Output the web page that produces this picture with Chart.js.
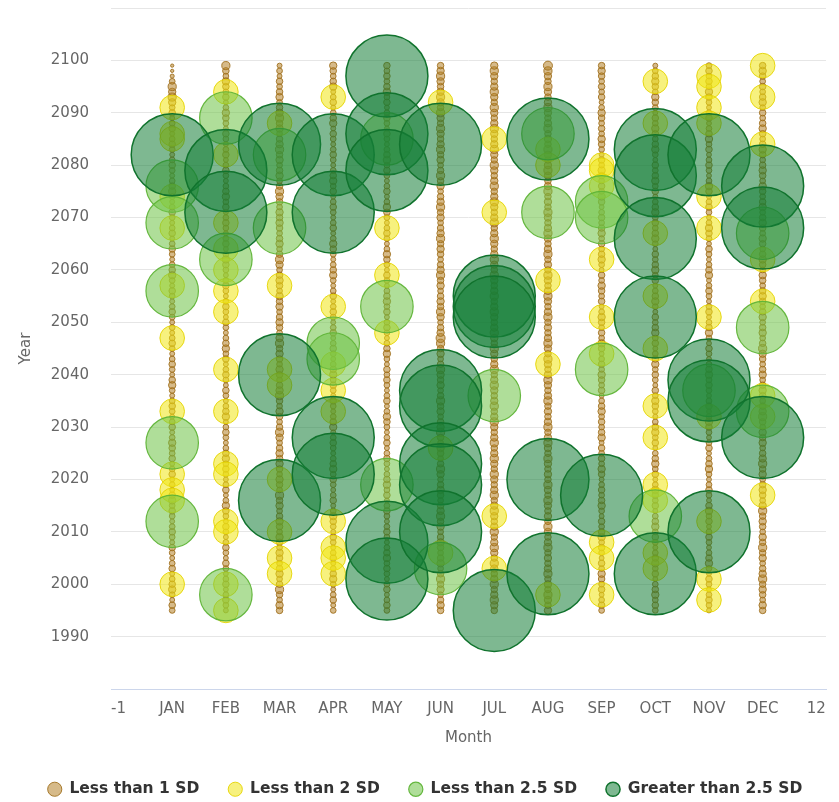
<!DOCTYPE html>
<html>
<head>
<meta charset="utf-8">
<title>Monthly anomaly bubbles</title>
<script src="https://cdn.jsdelivr.net/npm/chart.js@4.4.1/dist/chart.umd.min.js"></script>
<style>
    html, body { margin: 0; padding: 0; background: #fff; }
    #myChart { display: block; }
</style>
</head>
<body>
<canvas id="myChart" width="839" height="802"></canvas>
<script>
var months = ['JAN', 'FEB', 'MAR', 'APR', 'MAY', 'JUN', 'JUL', 'AUG', 'SEP', 'OCT', 'NOV', 'DEC'];
var xTickLabels = ['-1', 'JAN', 'FEB', 'MAR', 'APR', 'MAY', 'JUN', 'JUL', 'AUG', 'SEP', 'OCT', 'NOV', 'DEC', '12'];
var seriesNames = ['Less than 1 SD', 'Less than 2 SD', 'Less than 2.5 SD', 'Greater than 2.5 SD'];

// pierwszy rok w tablicach lt1Size (jedna wartość na rok, 1995..2099)
var firstYear = 1995;

// wielkość małych bąbelków (< 1 SD), wiersz = miesiąc
var lt1Size = [
    [7,8,6,7,9,8,7,6,8,7,6,7,8,6,7, 8,7,6,7,8,7,9,8,6,7,6,8,7,6,8, 7,8,9,7,6,8,7,6,7,8,7,6,7,9,8,
     6,7,8,7,6,7,8,7,6,7,6,7,8,7,6, 7,8,6,7,9,8,7,6,7,8,7,6,8,7,6, 7,8,7,6,7,9,8,7,6,7,8,7,6,7,8,
     7,6,8,7,6,8,7,9,10,9,10,7,5,4,4],
    [6,7,8,7,6,8,7,6,7,8,6,7,8,7,6, 7,8,6,7,8,9,7,6,8,7,6,7,8,7,9, 8,7,6,7,8,7,6,9,8,7,6,7,8,6,7,
     8,7,6,8,7,9,8,7,6,7,8,6,7,8,7, 6,7,8,7,6,7,8,9,7,6,8,7,6,7,8, 7,6,8,7,9,8,7,6,7,8,7,6,8,7,6,
     7,8,6,7,8,9,7,6,8,7,8,9,7,8,10],
    [8,9,7,8,10,8,7,9,8,7,8,9,7,8,9, 7,8,9,8,7,9,8,10,7,8,9,7,8,9,8, 9,8,7,9,10,8,7,8,9,7,8,10,9,8,7,
     8,9,7,8,9,8,10,9,7,8,9,8,7,9,8, 9,7,8,9,8,7,9,10,8,7,9,8,7,8,9, 8,9,7,8,9,10,8,7,9,8,7,9,8,10,9,
     8,7,9,8,10,9,8,7,9,8,7,8,6,7,6],
    [7,6,8,7,6,7,9,8,7,6,8,7,6,7,8, 6,7,8,9,7,6,8,7,6,7,8,7,9,8,7, 6,7,8,7,6,9,8,7,6,7,8,6,7,8,7,
     9,8,7,6,7,8,7,6,8,7,6,7,8,7,6, 8,7,6,7,9,8,7,6,7,8,9,7,6,8,7, 6,7,8,7,6,8,7,9,8,7,6,7,8,7,6,
     7,8,6,9,8,7,6,8,7,6,9,8,7,8,9],
    [7,8,7,6,8,7,6,7,8,7,9,8,7,6,7, 8,7,6,7,8,7,6,8,7,9,8,7,6,7,8, 7,6,8,7,6,7,8,9,7,6,8,7,6,7,8,
     7,8,6,7,9,8,7,6,7,8,7,6,8,7,9, 8,7,6,7,8,6,7,8,9,7,6,7,8,7,6, 7,8,9,7,6,8,7,6,7,8,7,9,8,7,6,
     7,8,6,7,8,7,6,8,7,9,8,7,8,7,8],
    [8,9,8,7,9,8,10,8,7,9,8,7,8,9,8, 7,9,8,10,9,8,7,8,9,8,7,9,10,8,7, 8,9,7,8,10,9,8,7,9,8,10,8,7,9,8,
     9,10,8,7,9,8,10,11,9,8,7,9,10,8,9, 8,7,9,8,10,9,8,7,8,9,8,10,9,8,7, 9,8,10,9,8,7,9,8,10,8,7,9,8,10,9,
     8,9,10,8,9,10,8,9,10,9,8,9,10,9,8],
    [8,9,10,9,8,10,9,8,9,10,8,9,10,9,8, 10,9,8,9,10,9,8,10,9,8,9,10,8,9,10, 9,8,10,9,8,9,10,9,8,10,9,8,9,10,9,
     8,10,9,8,9,10,8,9,10,9,8,9,10,9,8, 10,9,8,9,10,8,9,10,9,8,9,10,9,8,10, 9,8,9,10,9,8,10,9,8,9,10,8,9,10,9,
     8,9,10,9,8,9,10,8,9,10,9,8,9,10,9],
    [9,8,9,10,8,9,8,10,9,8,9,8,10,9,8, 9,10,8,9,8,9,10,8,9,10,8,9,8,9,10, 8,9,10,9,8,10,9,8,9,8,10,9,8,9,10,
     9,8,9,10,8,9,10,9,8,9,8,10,9,8,9, 10,9,8,9,10,8,9,8,10,9,8,9,10,9,8, 9,10,8,9,8,10,9,8,9,10,9,8,9,10,8,
     9,8,10,9,8,9,10,9,8,9,10,8,9,10,11],
    [7,8,7,6,8,7,8,9,7,8,6,7,8,7,9, 8,7,8,6,7,9,8,7,8,7,6,8,9,7,8, 7,8,6,9,8,7,8,7,9,8,7,6,8,7,8,
     9,7,8,7,6,8,9,7,8,7,8,9,7,6,8, 7,8,9,7,8,6,7,9,8,7,8,7,9,8,7, 8,7,6,8,9,7,8,7,8,9,7,8,6,7,8,
     9,7,8,7,8,9,7,6,8,7,8,7,8,9,8],
    [7,8,7,9,8,7,6,8,7,9,8,7,6,7,8, 7,9,8,7,6,8,7,8,9,7,6,8,7,9,8, 7,6,8,7,9,8,7,6,7,8,9,7,8,6,7,
     8,7,9,8,7,6,8,7,9,8,7,8,6,7,9, 8,7,6,8,7,9,8,7,8,6,7,9,8,7,8, 7,9,8,7,6,8,7,9,8,7,8,6,7,9,8,
     7,8,9,7,8,6,7,8,9,7,8,9,8,7,6],
    [6,7,8,7,6,7,8,6,7,9,8,7,6,7,8, 7,6,8,7,9,8,6,7,8,7,6,7,9,8,7, 6,8,7,6,7,8,9,7,6,8,7,6,7,8,7,
     9,8,7,6,7,8,6,7,9,8,7,6,8,7,6, 7,8,7,6,9,8,7,6,7,8,6,7,8,9,7, 6,7,8,7,6,8,9,7,6,7,8,7,6,8,7,
     9,8,7,6,8,7,6,7,8,9,7,8,7,8,7],
    [8,9,7,8,9,8,10,9,8,7,9,8,10,8,9, 7,8,9,8,10,9,7,8,9,8,7,9,8,10,9, 8,7,9,8,9,7,8,10,9,8,7,8,9,8,7,
     9,8,7,8,9,10,8,7,9,8,7,9,8,7,8, 9,8,7,8,9,7,8,9,8,7,8,9,7,8,9, 8,7,9,8,7,8,9,7,8,9,8,7,8,9,8,
     7,8,9,8,7,8,7,9,8,7,8,7,8,9,8]
];

// lata z odchyleniem < 2 SD (żółte)
var lt2Years = [
    [2091, 2086, 2085, 2074, 2068, 2057, 2047, 2033, 2021, 2018, 2016, 2000],
    [2094, 2082, 2069, 2064, 2060, 2056, 2052, 2041, 2033, 2023, 2021, 2012, 2010, 2000, 1995],
    [2088, 2057, 2041, 2038, 2020, 2010, 2005, 2002],
    [2093, 2053, 2042, 2037, 2033, 2012, 2007, 2005, 2002],
    [2068, 2059, 2048],
    [2092, 2026, 2006],
    [2085, 2071, 2013, 2003],
    [2083, 2080, 2058, 2042, 1998],
    [2080, 2079, 2076, 2062, 2051, 2044, 2008, 2005, 1998],
    [2096, 2088, 2067, 2055, 2045, 2034, 2028, 2019, 2016, 2006, 2003],
    [2097, 2095, 2091, 2088, 2074, 2068, 2051, 2032, 2012, 2001, 1997],
    [2099, 2093, 2084, 2062, 2054, 2036, 2032, 2017]
];

// lata z odchyleniem < 2.5 SD (jasnozielone)
var lt25Years = [
    [2076, 2069, 2056, 2027, 2012],
    [2089, 2062, 1998],
    [2082, 2068],
    [2046, 2043],
    [2085, 2053, 2019],
    [2003],
    [2036],
    [2086, 2071],
    [2073, 2070, 2041],
    [2013],
    [2037],
    [2067, 2049, 2033]
];

// lata z odchyleniem > 2.5 SD (ciemnozielone)
var gt25Years = [
    [2082],
    [2079, 2071],
    [2084, 2040, 2016],
    [2082, 2071, 2028, 2021],
    [2097, 2086, 2079, 2008, 2001],
    [2084, 2037, 2034, 2023, 2019, 2010],
    [2055, 2053, 2051, 1995],
    [2085, 2020, 2002],
    [2017],
    [2083, 2078, 2066, 2051, 2002],
    [2082, 2039, 2035, 2010],
    [2076, 2068, 2028]
];

// wielkość bąbelka dla kolejnych grup
var lt2Size = 30;
var lt25Size = 64;
var gt25Size = 100;

var rPerSize = 0.41;

function initialize() {
    Chart.defaults.font.family = "'DejaVu Sans', sans-serif";
    generateChart();
}

function sizedPoints() {
    var points = [];
    lt1Size.forEach(function (sizes, m) {
        sizes.forEach(function (z, i) {
            points.push({ x: m, y: firstYear + i, r: z * rPerSize });
        });
    });
    return points;
}

function yearPoints(yearLists, z) {
    var points = [];
    yearLists.forEach(function (years, m) {
        years.forEach(function (year) {
            points.push({ x: m, y: year, r: z * rPerSize });
        });
    });
    return points;
}

function generateChart() {
    var ctx = document.getElementById('myChart').getContext('2d');

    var datasets = [
        {
            label: seriesNames[0],
            data: sizedPoints(),
            backgroundColor: 'rgba(180, 130, 40, 0.55)',
            borderColor: 'rgba(160, 112, 30, 0.9)',
            borderWidth: 1,
            order: 3
        },
        {
            label: seriesNames[1],
            data: yearPoints(lt2Years, lt2Size),
            backgroundColor: 'rgba(240, 230, 20, 0.55)',
            borderColor: 'rgba(228, 212, 0, 0.9)',
            borderWidth: 1,
            order: 2
        },
        {
            label: seriesNames[2],
            data: yearPoints(lt25Years, lt25Size),
            backgroundColor: 'rgba(110, 195, 70, 0.55)',
            borderColor: 'rgba(95, 180, 55, 0.95)',
            borderWidth: 1.2,
            order: 1
        },
        {
            label: seriesNames[3],
            data: yearPoints(gt25Years, gt25Size),
            backgroundColor: 'rgba(20, 125, 55, 0.55)',
            borderColor: 'rgba(16, 115, 45, 1)',
            borderWidth: 1.5,
            order: 0
        }
    ];

    window.myBubbleChart = new Chart(ctx, {
        type: 'bubble',
        data: { datasets: datasets },
        options: {
            responsive: false,
            animation: false,
            events: [],
            clip: false,
            layout: {
                autoPadding: false,
                padding: { top: 8, right: 0, bottom: -5, left: 11 }
            },
            plugins: {
                legend: {
                    position: 'bottom',
                    labels: {
                        usePointStyle: true,
                        boxWidth: 14,
                        boxHeight: 10,
                        padding: 29,
                        color: '#333',
                        font: { size: 15.5, weight: 'bold' },
                        sort: function (a, b) { return a.datasetIndex - b.datasetIndex; }
                    }
                },
                tooltip: { enabled: false }
            },
            scales: {
                x: {
                    type: 'linear',
                    min: -1.14,
                    max: 12.18,
                    grid: { display: false, drawTicks: false },
                    border: { display: true, color: '#ccd6eb', width: 1 },
                    afterBuildTicks: function (scale) {
                        scale.ticks = xTickLabels.map(function (label, i) {
                            return { value: i - 1 };
                        });
                    },
                    ticks: {
                        autoSkip: false,
                        maxRotation: 0,
                        padding: 11,
                        color: '#666',
                        font: { size: 15 },
                        callback: function (value) {
                            return xTickLabels[value + 1];
                        }
                    },
                    title: {
                        display: true,
                        text: 'Month',
                        color: '#666',
                        font: { size: 15 },
                        padding: { top: 0, bottom: 5.5 }
                    },
                    afterFit: function (scale) {
                        scale.height = 63.5;
                        scale.paddingLeft = 0;
                        scale.paddingRight = 0;
                    }
                },
                y: {
                    min: 1980,
                    max: 2110,
                    grid: { color: '#e6e6e6', drawTicks: false },
                    border: { display: false },
                    ticks: {
                        stepSize: 10,
                        padding: 22,
                        color: '#666',
                        font: { size: 15 },
                        callback: function (value) {
                            if (value === 1980 || value === 2110) return '';
                            return String(value);
                        }
                    },
                    title: {
                        display: true,
                        text: 'Year',
                        color: '#666',
                        font: { size: 15 },
                        padding: { top: 6, bottom: 0 }
                    },
                    afterFit: function (scale) {
                        scale.width = 100;
                        scale.paddingTop = 0;
                        scale.paddingBottom = 0;
                    }
                },
                // pusty margines po prawej stronie wykresu
                yRight: {
                    position: 'right',
                    grid: { display: false, drawTicks: false },
                    border: { display: false },
                    ticks: { display: false },
                    afterFit: function (scale) {
                        scale.width = 13;
                        scale.paddingTop = 0;
                        scale.paddingBottom = 0;
                    }
                }
            }
        }
    });
}

document.addEventListener('DOMContentLoaded', initialize);
</script>
</body>
</html>
